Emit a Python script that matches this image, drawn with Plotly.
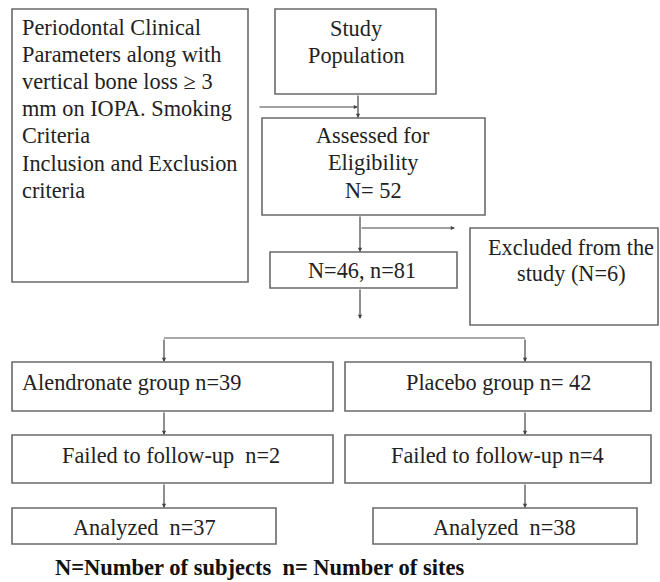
import plotly.graph_objects as go

# ---- data: flowchart labels ----
criteria_lines = ["Periodontal Clinical", "Parameters along with", "vertical bone loss \u2265 3",
                  "mm on IOPA. Smoking", "Criteria", "Inclusion and Exclusion", "criteria"]
population_label = ["Study", "Population"]
assessed_label = ["Assessed for", "Eligibility", "N= 52"]
eligible_label = ["N=46, n=81"]
excluded_label = ["Excluded from the", "study (N=6)"]
group_labels = ["Alendronate group n=39", "Placebo group n= 42"]
failed_labels = ["Failed to follow-up\u00a0\u00a0n=2", "Failed to follow-up n=4"]
analyzed_labels = ["Analyzed\u00a0\u00a0n=37", "Analyzed\u00a0\u00a0n=38"]
caption = "N=Number of subjects\u00a0\u00a0n= Number of sites"

# ---- layout geometry (pixels, y downward) ----
boxes = [  # x0, y0, x1, y1
    (12, 9, 248, 282),     # criteria
    (275, 9, 436, 94),     # population
    (262, 118, 485, 215),  # assessed
    (270, 252, 457, 288),  # eligible
    (470, 228, 658, 325),  # excluded
    (12, 362, 333, 411),   # alendronate
    (345, 362, 651, 411),  # placebo
    (12, 435, 333, 483),   # failed L
    (345, 435, 651, 483),  # failed R
    (12, 508, 276, 544),   # analyzed L
    (373, 508, 637, 544),  # analyzed R
]

texts = [  # lines, x, first-line y, line step, anchor
    (criteria_lines, 20, 27, 27.2, "left"),
    (population_label, 356, 28, 27, "center"),
    (assessed_label, 373, 135, 27.5, "center"),
    (eligible_label, 362, 270, 27, "center"),
    (excluded_label, 571, 247, 26.5, "center"),
    ([group_labels[0]], 20, 382, 27, "left"),
    ([group_labels[1]], 498, 382, 27, "center"),
    ([failed_labels[0]], 171, 455, 27, "center"),
    ([failed_labels[1]], 497, 455, 27, "center"),
    ([analyzed_labels[0]], 144, 527, 27, "center"),
    ([analyzed_labels[1]], 504, 527, 27, "center"),
]

arrows = [  # tail x, tail y, head x, head y
    (258, 107, 358, 107),
    (358, 94, 358, 118),
    (360, 215, 360, 252),
    (360, 228, 455, 228),
    (360, 288, 360, 319),
    (164, 338, 164, 362),
    (525, 338, 525, 362),
    (164, 411, 164, 435),
    (525, 411, 525, 435),
    (164, 483, 164, 508),
    (525, 483, 525, 508),
]
plain_lines = [(164, 338, 525, 338)]

fig = go.Figure()
fig.add_trace(go.Scatter(x=[0, 660], y=[0, 582], mode="markers",
                         marker=dict(opacity=0), hoverinfo="skip", showlegend=False))

for (x0, y0, x1, y1) in boxes:
    fig.add_shape(type="rect", x0=x0, y0=y0, x1=x1, y1=y1, xref="x", yref="y",
                  line=dict(color="#6a6a6a", width=1.6), fillcolor="rgba(0,0,0,0)")

for (x0, y0, x1, y1) in plain_lines:
    fig.add_shape(type="line", x0=x0, y0=y0, x1=x1, y1=y1, xref="x", yref="y",
                  line=dict(color="#555555", width=1.2))

for (tx, ty, hx, hy) in arrows:
    fig.add_annotation(x=hx, y=hy, ax=tx, ay=ty, xref="x", yref="y", axref="x", ayref="y",
                       text="", showarrow=True, arrowhead=2, arrowsize=0.7,
                       arrowwidth=1.2, arrowcolor="#444444", standoff=0, startstandoff=0)

font = dict(family="Liberation Serif, Times New Roman, serif", size=22.3, color="#222222")
for lines, x, y, step, anchor in texts:
    for i, line in enumerate(lines):
        fig.add_annotation(x=x, y=y + i * step, xref="x", yref="y", text=line,
                           showarrow=False, xanchor=anchor, yanchor="middle", font=font)

fig.add_annotation(x=259, y=567, xref="x", yref="y", text="<b>" + caption + "</b>",
                   showarrow=False, xanchor="center", yanchor="middle",
                   font=dict(family="Liberation Serif, Times New Roman, serif", size=22.5, color="#111111"))

fig.update_xaxes(range=[0, 660], visible=False, fixedrange=True)
fig.update_yaxes(range=[582, 0], visible=False, fixedrange=True)
fig.update_layout(width=660, height=582, margin=dict(l=0, r=0, t=0, b=0),
                  plot_bgcolor="white", paper_bgcolor="white", showlegend=False)

fig.write_html("out.html", config={"displayModeBar": False},
               post_script="document.body.style.margin='0';document.body.style.overflow='hidden';")
